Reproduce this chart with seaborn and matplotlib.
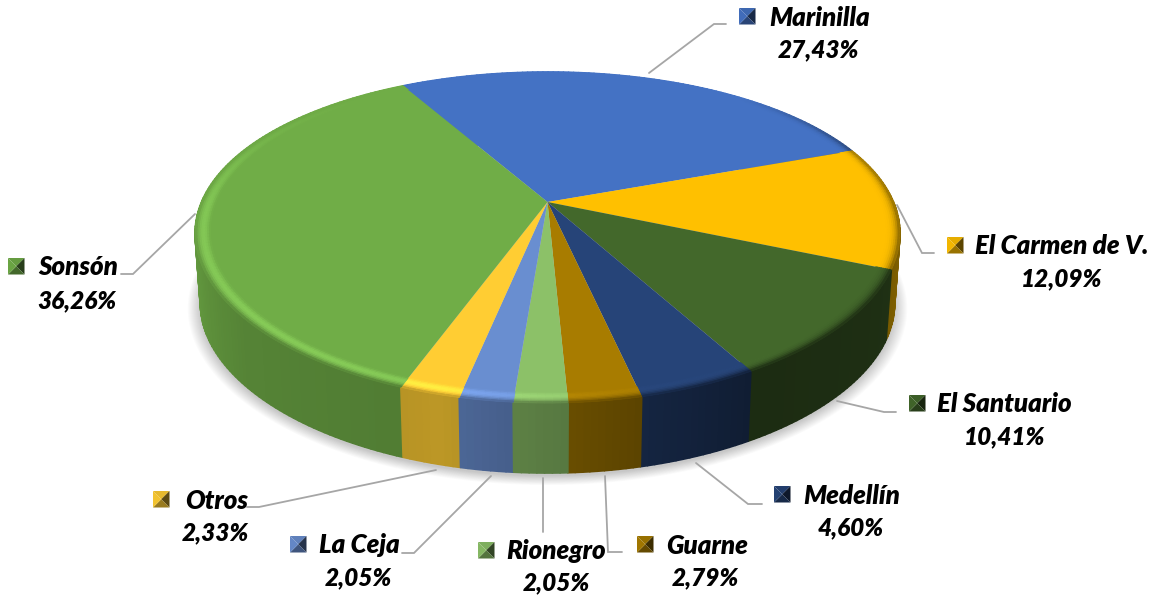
import numpy as np
import matplotlib
matplotlib.use("Agg")
import matplotlib.pyplot as plt
from matplotlib.collections import PolyCollection
from matplotlib.transforms import Transform
import seaborn as sns

# ---------- data ----------
categories = ["Marinilla", "El Carmen de V.", "El Santuario", "Medellín", "Guarne",
              "Rionegro", "La Ceja", "Otros", "Sonsón"]
shares = [27.43, 12.09, 10.41, 4.60, 2.79, 2.05, 2.05, 2.33, 36.26]
hex_colors = ["#4472C4", "#FFC000", "#43682B", "#264478", "#A87C00",
              "#8CC168", "#698ED0", "#FFCD33", "#70AD47"]

# ---------- layout (pixels) ----------
W, H = 1160, 596
APEX = (547.5, 202.0)
BX, AY, K, KX = 346.0, 157.9, 0.2146, 0.19
DEPTH, BOTTOM_SCALE = 70.0, 0.985
START = -29.1
name_pos = [(769, 18), (975, 246), (937, 404), (803, 496), (666, 546),
            (506, 551), (319, 545), (185, 501), (38, 267)]
pct_pos = [(818, 50), (1062, 279), (1005, 437), (851, 528), (705, 578),
           (556, 583), (358, 578), (215, 533), (77, 301)]
box_pos = [(739, 8), (947, 237), (909, 395), (774, 486), (637, 536),
           (478, 542), (290, 536), (153, 491), (8, 258)]
leaders = [[(649, 73), (714, 24), (726, 24)],
           [(897, 205), (922, 253), (934, 253)],
           [(837, 401), (884, 412), (896, 412)],
           [(696, 463), (748, 504), (762, 504)],
           [(605, 476), (608, 552), (622, 552)],
           [(543, 478), (543, 532)],
           [(491, 476), (414, 553), (402, 553)],
           [(436, 470), (259, 507), (247, 507)],
           [(195, 214), (133, 274), (121, 274)]]

sns.set_theme(style="white")
plt.rcParams["font.family"] = ["Lato", "DejaVu Sans"]
palette = np.array(sns.color_palette(hex_colors))


def project(u, v, dy=0.0, sx=1.0):
    u, v = np.asarray(u), np.asarray(v)
    return (APEX[0] + sx * BX * u / (1 + KX * v),
            APEX[1] - AY * v / (1 + K * v) + dy)


class Perspective(Transform):
    input_dims = output_dims = 2
    is_separable = False

    def transform_non_affine(self, xy):
        xy = np.asarray(xy, float)
        x, y = project(xy[:, 0], xy[:, 1])
        return np.column_stack([x, y])


def wall_factor(th):
    return np.interp(np.mod(th, 360),
                     [0, 40, 70, 90, 120, 150, 165, 177, 185, 195, 200, 230, 265, 300, 330, 360],
                     [1, 1, .62, .55, .45, .42, .53, .62, .67, .74, .72, .76, .93, .97, 1, 1])


def highlight(th):
    return np.interp(np.mod(th, 360),
                     [0, 130, 170, 195, 230, 270, 295, 320, 360],
                     [0, 0, .05, .16, .16, .12, .04, 0, 0])


fig = plt.figure(figsize=(W / 100, H / 100), dpi=100, facecolor="white")
ax = fig.add_axes([0, 0, 1, 1])
wedges, _ = ax.pie(shares, colors=palette, startangle=90 - START, counterclock=False,
                   radius=1, wedgeprops={"linewidth": 0})
ax.set_aspect("auto")
ax.set_xlim(0, W)
ax.set_ylim(H, 0)
ax.axis("off")

persp = Perspective() + ax.transData
for w_ in wedges:
    w_.set_transform(persp)
    w_.set_zorder(5)
    w_.set_clip_on(False)

# cumulative angle edges, clockwise from the top
edges = START + np.concatenate([[0], np.cumsum(shares)]) / np.sum(shares) * 360

# soft shadow
circ = np.radians(np.linspace(0, 360, 361))
for g in np.linspace(1.035, 1.0, 14):
    x, y = project(np.sin(circ) * g, np.cos(circ) * g, dy=DEPTH + 3, sx=BOTTOM_SCALE)
    ax.fill(x, y, color="black", alpha=0.016, lw=0, zorder=1)

# side wall strips, back to front
polys, cols, depth = [], [], []
for i in range(len(shares)):
    n = max(3, int((edges[i + 1] - edges[i]) / 1.0))
    th = np.linspace(edges[i], edges[i + 1], n + 1)
    for a, b in zip(th[:-1], th[1:]):
        ra, rb = np.radians(a), np.radians(b)
        xa, ya = project(np.sin(ra), np.cos(ra))
        xb, yb = project(np.sin(rb), np.cos(rb))
        xc, yc = project(np.sin(rb), np.cos(rb), DEPTH, BOTTOM_SCALE)
        xd, yd = project(np.sin(ra), np.cos(ra), DEPTH, BOTTOM_SCALE)
        polys.append([(xa, ya), (xb, yb), (xc, yc), (xd, yd)])
        cols.append(palette[i] * wall_factor((a + b) / 2))
        depth.append(np.cos((ra + rb) / 2))
order = np.argsort(depth)[::-1]
ax.add_collection(PolyCollection([polys[j] for j in order],
                                 facecolors=[cols[j] for j in order],
                                 edgecolors=[cols[j] for j in order],
                                 linewidths=1.2, zorder=3))

# bevel on the rim of the top face
R_IN = 0.958
rr = np.linspace(R_IN, 1.0, 9)
polys, cols = [], []
for i in range(len(shares)):
    n = max(3, int((edges[i + 1] - edges[i]) / 1.0))
    th = np.linspace(edges[i], edges[i + 1], n + 1)
    for a, b in zip(th[:-1], th[1:]):
        ra, rb = np.radians(a), np.radians(b)
        m = (a + b) / 2
        for r0, r1 in zip(rr[:-1], rr[1:]):
            t = ((r0 + r1) / 2 - R_IN) / (1 - R_IN)
            x0, y0 = project(r0 * np.sin(ra), r0 * np.cos(ra))
            x1, y1 = project(r0 * np.sin(rb), r0 * np.cos(rb))
            x2, y2 = project(r1 * np.sin(rb), r1 * np.cos(rb))
            x3, y3 = project(r1 * np.sin(ra), r1 * np.cos(ra))
            polys.append([(x0, y0), (x1, y1), (x2, y2), (x3, y3)])
            dark = 1 - (1 - wall_factor(m)) * t ** 3
            c = palette[i] * dark * (1 + highlight(m) * np.sin(np.pi * t) ** 1.2)
            c = c + 0.2 * highlight(m) * np.sin(np.pi * t) ** 1.2
            cols.append(np.clip(c, 0, 1))
ax.add_collection(PolyCollection(polys, facecolors=cols, edgecolors=cols,
                                 linewidths=0.6, zorder=6))

# leader lines
for pts in leaders:
    xs, ys = zip(*pts)
    ax.plot(xs, ys, color="#A6A6A6", lw=1.3, solid_joinstyle="miter", zorder=7)

# labels and legend keys
BOX = 16.5
for i, cat in enumerate(categories):
    nx, ny = name_pos[i]
    px, py = pct_pos[i]
    ax.text(nx, ny, cat, ha="left", va="center", fontsize=18.6, fontweight="heavy",
            fontstyle="italic", color="black", zorder=8)
    ax.text(px, py, f"{shares[i]:.2f}%".replace(".", ","), ha="center", va="center",
            fontsize=17.6, fontweight="heavy", fontstyle="italic", color="black", zorder=8)
    bx, by = box_pos[i]
    cx, cy = bx + BOX / 2, by + BOX / 2
    corners = [(bx, by), (bx + BOX, by), (bx + BOX, by + BOX), (bx, by + BOX)]
    for j, f in enumerate([0.9, 0.36, 0.6, 0.95]):
        p, q = corners[j], corners[(j + 1) % 4]
        ax.fill([p[0], q[0], cx], [p[1], q[1], cy], color=palette[i] * f, lw=0, zorder=8)

fig.savefig("out.png", dpi=100, facecolor="white")
